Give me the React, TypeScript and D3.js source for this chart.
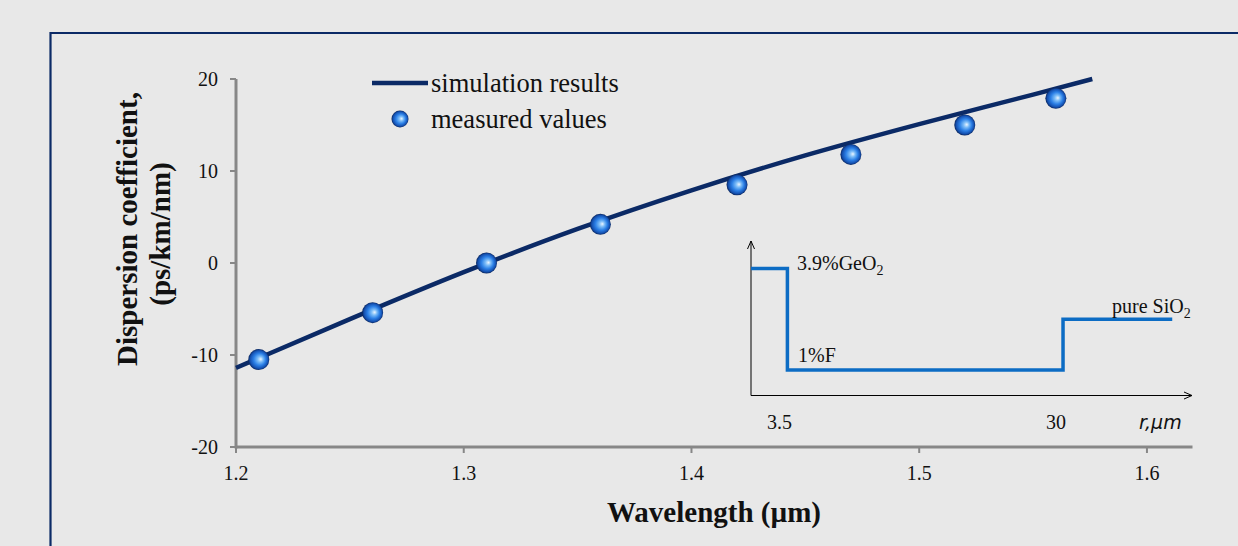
import React from "react";
import * as d3 from "d3";

// ---- data ----
const simWavelength = [1.2, 1.25, 1.3, 1.35, 1.4, 1.45, 1.5, 1.55, 1.576];
const simDispersion = [-11.4, -6.1, -1.0, 3.7, 7.9, 11.7, 15.1, 18.3, 20.0];
const measWavelength = [1.21, 1.26, 1.31, 1.36, 1.42, 1.47, 1.52, 1.56];
const measDispersion = [-10.5, -5.4, 0.0, 4.2, 8.5, 11.8, 15.0, 17.9];
const xTicks = [1.2, 1.3, 1.4, 1.5, 1.6];
const yTicks = [-20, -10, 0, 10, 20];
const legendLabels = ["simulation results", "measured values"];
// inset: refractive index profile (relative units) vs radius (µm)
const profileR = [0, 3.5, 3.5, 30, 30, 40.5];
const profileN = [0.4, 0.4, -0.4, -0.4, 0, 0];
const insetTicks = [3.5, 30];

const W = 1238;
const H = 546;
const serif = "'Liberation Serif', 'Times New Roman', serif";

export default function App() {
  const x = d3.scaleLinear().domain([1.2, 1.62]).range([236, 1192.5]);
  const y = d3.scaleLinear().domain([-20, 20]).range([447, 79]);

  const simLine = d3
    .line<number>()
    .x((_, i) => x(simWavelength[i]))
    .y((d) => y(d))
    .curve(d3.curveMonotoneX)(simDispersion) as string;

  const ix = d3.scaleLinear().domain([0, 42.4]).range([751, 1192]);
  const iy = d3.scaleLinear().domain([-0.6, 0.6]).range([395.5, 243]);
  const stepPath = d3
    .line<number>()
    .x((_, i) => ix(profileR[i]))
    .y((d) => iy(d))(profileN) as string;

  const gray = "#878787";
  const navy = "#0b2a66";

  return (
    <svg
      width={W}
      height={H}
      style={{ position: "absolute", left: 0, top: 0, display: "block" }}
      fontFamily={serif}
    >
      <defs>
        <radialGradient id="ball" cx="50%" cy="50%" r="52%" fx="60%" fy="48%">
          <stop offset="0" stopColor="#eaf5ff" />
          <stop offset="0.25" stopColor="#7cbcf7" />
          <stop offset="0.55" stopColor="#2c80e6" />
          <stop offset="0.82" stopColor="#1450b0" />
          <stop offset="1" stopColor="#071b48" />
        </radialGradient>
      </defs>
      <rect x={0} y={0} width={W} height={H} fill="#e8e8e8" />
      {/* frame */}
      <path d={`M50.5,${H + 5} L50.5,33 L${W + 5},33`} fill="none" stroke={navy} strokeWidth={2.2} />

      {/* axes */}
      <line x1={x(1.2)} x2={x(1.62)} y1={y(-20)} y2={y(-20)} stroke={gray} strokeWidth={3} />
      <line x1={x(1.2)} x2={x(1.2)} y1={y(-20) + 1.5} y2={y(20)} stroke={gray} strokeWidth={3} />
      {xTicks.map((t) => (
        <g key={"x" + t}>
          <line x1={x(t)} x2={x(t)} y1={y(-20)} y2={y(-20) + 6} stroke={gray} strokeWidth={2} />
          <text x={x(t)} y={480} fontSize={20} textAnchor="middle" fill="#111">
            {d3.format(".1f")(t)}
          </text>
        </g>
      ))}
      {yTicks.map((t) => (
        <g key={"y" + t}>
          <line x1={x(1.2) - 6} x2={x(1.2)} y1={y(t)} y2={y(t)} stroke={gray} strokeWidth={2} />
          <text x={218} y={y(t)} dy="0.35em" fontSize={20} textAnchor="end" fill="#111">
            {t}
          </text>
        </g>
      ))}

      {/* axis titles */}
      <text x={714} y={522} fontSize={29} fontWeight="bold" textAnchor="middle" fill="#111">
        Wavelength (µm)
      </text>
      <g transform="translate(137,229) rotate(-90)">
        <text x={0} y={0} fontSize={29} fontWeight="bold" textAnchor="middle" fill="#111">
          Dispersion coefficient,
        </text>
        <text x={-5} y={33} fontSize={29} fontWeight="bold" textAnchor="middle" fill="#111">
          (ps/km/nm)
        </text>
      </g>

      {/* inset */}
      <g>
        <line x1={ix(0)} x2={ix(0)} y1={iy(-0.6)} y2={iy(0.6) - 2} stroke="#000" strokeWidth={1} />
        <path d={`M${ix(0) - 3.5},${iy(0.6) + 6} L${ix(0)},${iy(0.6) - 2} L${ix(0) + 3.5},${iy(0.6) + 6}`} fill="none" stroke="#000" strokeWidth={1} />
        <line x1={ix(0)} x2={ix(42.4)} y1={iy(-0.6)} y2={iy(-0.6)} stroke="#000" strokeWidth={1} />
        <path d={`M${ix(42.4) - 8},${iy(-0.6) - 3.5} L${ix(42.4)},${iy(-0.6)} L${ix(42.4) - 8},${iy(-0.6) + 3.5}`} fill="none" stroke="#000" strokeWidth={1} />
        <path d={stepPath} fill="none" stroke="#0c6cc4" strokeWidth={3.5} />
        <text x={797} y={270} fontSize={20} fill="#111">
          3.9%GeO<tspan fontSize={14} dy={5}>2</tspan>
        </text>
        <text x={798} y={362} fontSize={20} fill="#111">1%F</text>
        <text x={1112} y={313} fontSize={20} fill="#111">
          pure SiO<tspan fontSize={14} dy={5}>2</tspan>
        </text>
        {insetTicks.map((t) => (
          <text key={"i" + t} x={ix(t) - (t === 30 ? 7 : 8)} y={429} fontSize={20} textAnchor="middle" fill="#111">
            {t}
          </text>
        ))}
        <text x={1139} y={429} fontSize={19} fontStyle="italic" fontFamily="'DejaVu Sans', sans-serif" fill="#111">
          r,μm
        </text>
      </g>

      {/* simulation curve */}
      <path d={simLine} fill="none" stroke={navy} strokeWidth={4.5} />

      {/* measured points */}
      {measWavelength.map((w, i) => (
        <circle key={"m" + i} cx={x(w)} cy={y(measDispersion[i])} r={10.5} fill="url(#ball)" />
      ))}

      {/* legend */}
      <line x1={372} x2={428} y1={83} y2={83} stroke={navy} strokeWidth={4.5} />
      <text x={431} y={92} fontSize={26.5} fill="#111">{legendLabels[0]}</text>
      <circle cx={400} cy={119} r={8.5} fill="url(#ball)" />
      <text x={431} y={128} fontSize={26.5} fill="#111">{legendLabels[1]}</text>
    </svg>
  );
}
